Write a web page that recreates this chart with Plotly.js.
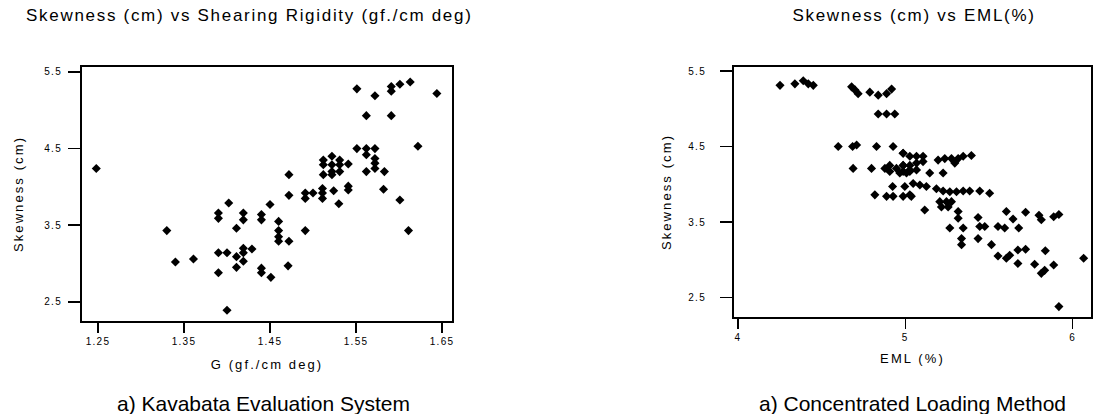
<!DOCTYPE html>
<html>
<head>
<meta charset="utf-8">
<script src="https://cdn.plot.ly/plotly-3.0.1.min.js"></script>
<style>
html,body{margin:0;padding:0;background:#fff;}
#chart{width:1093px;height:414px;}
g.annotation[data-index="0"] text, g.annotation[data-index="1"] text{letter-spacing:1.7px;}
.xtitle, .ytitle, .x2title, .y2title{letter-spacing:2.1px;}
.xaxislayer-above text, .yaxislayer-above text{letter-spacing:1.3px;}
</style>
</head>
<body>
<div id="chart"></div>
<script>
// Left chart: Skewness vs Shearing Rigidity G (gf./cm deg)
const kesG = [1.248,1.402,1.390,1.390,1.419,1.419,1.440,1.440,1.450,1.411,1.330,1.340,1.361,1.390,1.400,
  1.419,1.429,1.419,1.411,1.419,1.390,1.411,1.440,1.440,1.451,1.400,
  1.472,1.472,1.460,1.460,1.460,1.460,1.472,1.491,1.471,
  1.491,1.500,1.491,1.511,1.511,1.511,1.524,1.530,1.541,1.541,
  1.512,1.512,1.522,1.531,1.522,1.531,1.522,1.531,1.512,1.522,1.541,
  1.551,1.562,1.572,1.562,1.572,1.572,1.562,1.572,1.583,1.582,1.601,1.611,1.622,
  1.562,1.591,1.551,1.572,1.591,1.591,1.601,1.613,1.644];
const kesSkew = [4.24,3.79,3.66,3.59,3.66,3.57,3.64,3.57,3.77,3.46,3.43,3.02,3.06,3.14,3.14,
  3.20,3.19,3.14,3.09,3.03,2.88,2.95,2.94,2.88,2.82,2.39,
  4.16,3.89,3.55,3.43,3.35,3.29,3.29,3.43,2.97,
  3.92,3.92,3.85,3.98,3.92,3.85,3.95,3.78,4.01,3.96,
  4.35,4.29,4.40,4.35,4.29,4.29,4.20,4.20,4.16,4.16,4.30,
  4.50,4.50,4.50,4.42,4.37,4.31,4.20,4.24,4.20,3.97,3.83,3.43,4.53,
  4.93,4.93,5.28,5.19,5.31,5.25,5.34,5.37,5.22];

// Right chart: Skewness vs EML (%)
const clmEML = [4.251,4.340,4.390,4.420,4.450,
  4.679,4.699,4.718,4.788,4.838,4.888,4.918,
  4.838,4.888,4.937,
  4.599,4.685,4.709,4.828,4.927,
  4.688,4.798,4.878,4.907,4.947,4.987,5.027,4.907,4.967,5.007,4.987,
  4.924,4.997,4.818,4.888,4.927,4.987,5.027,
  4.987,5.027,5.067,5.106,4.987,5.027,5.067,5.106,4.987,5.027,5.067,
  5.146,5.226,5.196,5.236,5.276,5.316,5.296,5.346,5.395,
  5.047,5.087,5.126,5.036,
  5.186,5.226,5.266,5.306,5.346,5.385,5.445,5.504,
  5.206,5.246,5.276,5.216,5.256,5.116,5.316,5.316,5.266,5.346,
  5.435,5.445,5.475,5.435,5.336,5.336,5.554,5.594,5.604,5.644,5.678,
  5.719,5.799,5.813,5.887,5.918,5.515,5.554,5.604,5.624,5.673,5.719,5.673,
  5.773,5.813,5.833,5.837,5.887,6.066,5.918];
const clmSkew = [5.31,5.33,5.37,5.33,5.31,
  5.29,5.25,5.20,5.22,5.18,5.20,5.26,
  4.93,4.93,4.93,
  4.50,4.50,4.52,4.50,4.50,
  4.21,4.21,4.21,4.25,4.21,4.25,4.19,4.17,4.15,4.15,4.41,
  3.97,3.97,3.86,3.84,3.84,3.84,3.86,
  4.41,4.37,4.37,4.37,4.25,4.25,4.28,4.30,4.17,4.17,4.19,
  4.15,4.15,4.32,4.34,4.34,4.34,4.28,4.37,4.38,
  4.01,3.99,3.97,3.84,
  3.94,3.91,3.90,3.90,3.91,3.91,3.91,3.88,
  3.77,3.77,3.77,3.70,3.70,3.66,3.64,3.55,3.42,3.42,
  3.56,3.44,3.44,3.28,3.28,3.20,3.44,3.42,3.64,3.54,3.42,
  3.63,3.59,3.53,3.57,3.60,3.20,3.05,3.02,3.06,3.13,3.14,2.95,
  2.94,2.82,2.86,3.12,2.93,3.02,2.38];

const skewTicks = [2.5,3.5,4.5,5.5];
const skewTickText = ['2.5','3.5','4.5','5.5'];
const gTicks = [1.25,1.35,1.45,1.55,1.65];
const gTickText = ['1.25','1.35','1.45','1.55','1.65'];
const emlTicks = [4,5,6];
const emlTickText = ['4','5','6'];

const FONT = 'Liberation Sans, Arial, sans-serif';
const marker = {symbol:'diamond', size:7, color:'#000'};

const traces = [
  {x:kesG, y:kesSkew, type:'scatter', mode:'markers', marker:marker, xaxis:'x', yaxis:'y'},
  {x:clmEML, y:clmSkew, type:'scatter', mode:'markers', marker:marker, xaxis:'x2', yaxis:'y2'}
];

const axisBase = {
  showline:true, mirror:true, linecolor:'#000', linewidth:2,
  ticks:'outside', tickwidth:1.5, tickcolor:'#000',
  showgrid:false, zeroline:false,
  tickfont:{family:FONT, size:10, color:'#000'},
  automargin:false
};
const titleFont = {family:FONT, size:13, color:'#000'};

const layout = {
  width:1093, height:414,
  margin:{l:0,r:0,t:0,b:0},
  paper_bgcolor:'#fff', plot_bgcolor:'#fff',
  showlegend:false,
  font:{family:FONT, color:'#000'},
  xaxis:Object.assign({}, axisBase, {
    domain:[82/1093, 452/1093], range:[1.2314,1.6616], ticklen:10,
    tickvals:gTicks, ticktext:gTickText, anchor:'y',
    title:{text:'G (gf./cm deg)', font:titleFont, standoff:14}
  }),
  yaxis:Object.assign({}, axisBase, {
    domain:[1-321/414, 1-67/414], range:[2.25,5.565], ticklen:12,
    tickvals:skewTicks, ticktext:skewTickText, anchor:'x', ticklabelstandoff:4,
    title:{text:'Skewness (cm)', font:titleFont, standoff:22}
  }),
  xaxis2:Object.assign({}, axisBase, {
    domain:[734/1093, 1091/1093], range:[3.976,6.11], ticklen:10,
    tickvals:emlTicks, ticktext:emlTickText, anchor:'y2',
    title:{text:'EML (%)', font:titleFont, standoff:12}
  }),
  yaxis2:Object.assign({}, axisBase, {
    domain:[1-317/414, 1-67/414], range:[2.242,5.553], ticklen:12,
    tickvals:skewTicks, ticktext:skewTickText, anchor:'x2', ticklabelstandoff:12,
    title:{text:'Skewness (cm)', font:titleFont, standoff:18}
  }),
  annotations:[
    {text:'Skewness (cm) vs Shearing Rigidity (gf./cm deg)', xref:'paper', yref:'paper',
     x:249/1093, y:1-16/414, xanchor:'center', yanchor:'middle', showarrow:false,
     font:{family:FONT,size:17,color:'#000'}},
    {text:'Skewness (cm) vs EML(%)', xref:'paper', yref:'paper',
     x:914/1093, y:1-16/414, xanchor:'center', yanchor:'middle', showarrow:false,
     font:{family:FONT,size:17,color:'#000'}},
    {text:'a) Kavabata Evaluation System', xref:'paper', yref:'paper',
     x:263/1093, y:1-403/414, xanchor:'center', yanchor:'middle', showarrow:false,
     font:{family:FONT,size:21,color:'#000'}},
    {text:'a) Concentrated Loading Method', xref:'paper', yref:'paper',
     x:912/1093, y:1-403/414, xanchor:'center', yanchor:'middle', showarrow:false,
     font:{family:FONT,size:21,color:'#000'}}
  ]
};

Plotly.newPlot('chart', traces, layout, {displayModeBar:false, staticPlot:true});
</script>
</body>
</html>
